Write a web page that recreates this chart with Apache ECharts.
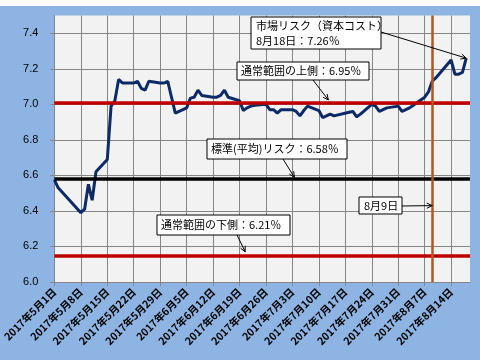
<!DOCTYPE html>
<html><head><meta charset="utf-8">
<script src="https://cdn.jsdelivr.net/npm/echarts@6/dist/echarts.min.js"></script>
<style>html,body{margin:0;padding:0;background:#fff}#c{width:480px;height:360px}</style>
</head><body><div id="c"></div>
<script>
// ---- data ----
const dates = ['5/1','5/2','5/8','5/9','5/10','5/11','5/12','5/15','5/16','5/17','5/18','5/19',
  '5/22','5/23','5/24','5/25','5/26','5/29','5/30','5/31','6/1','6/2','6/5','6/6','6/7','6/8','6/9',
  '6/12','6/13','6/14','6/15','6/16','6/19','6/20','6/21','6/22','6/23','6/26','6/27','6/28','6/29','6/30',
  '7/3','7/4','7/5','7/6','7/7','7/10','7/11','7/12','7/13','7/14','7/18','7/19','7/20','7/21',
  '7/24','7/25','7/26','7/27','7/28','7/31','8/1','8/2','8/3','8/4','8/7','8/8','8/9','8/10',
  '8/14','8/15','8/16','8/17','8/18'];
const risk = [6.575,6.53,6.39,6.41,6.55,6.46,6.62,6.69,6.99,7.02,7.14,7.12,
  7.12,7.13,7.09,7.08,7.13,7.12,7.12,7.13,7.04,6.95,6.98,7.035,7.04,7.08,7.05,
  7.04,7.04,7.05,7.08,7.04,7.02,6.965,6.98,6.99,6.995,7.00,6.97,6.97,6.95,6.97,
  6.97,6.96,6.935,6.965,6.99,6.965,6.925,6.935,6.945,6.935,6.955,6.96,6.93,6.945,
  7.00,6.99,6.96,6.97,6.98,6.99,6.96,6.97,6.98,6.995,7.04,7.07,7.13,7.15,
  7.25,7.17,7.17,7.18,7.26];
const tickLabels = ['2017年5月1日','2017年5月8日','2017年5月15日','2017年5月22日','2017年5月29日',
  '2017年6月5日','2017年6月12日','2017年6月19日','2017年6月26日','2017年7月3日','2017年7月10日',
  '2017年7月17日','2017年7月24日','2017年7月31日','2017年8月7日','2017年8月14日'];
const yTicks = ['6.0','6.2','6.4','6.6','6.8','7.0','7.2','7.4'];
const upperLine = 7.01, meanLine = 6.58, lowerLine = 6.15;
const markDate = '8/9';
const lastDate = '8/18', lastValue = 7.26;

function dayOf(s){const p=s.split('/').map(Number);return Math.round((Date.UTC(2017,p[0]-1,p[1])-Date.UTC(2017,4,1))/86400000);}
const seriesData = dates.map((s,i)=>[dayOf(s), risk[i]]);

const chart = echarts.init(document.getElementById('c'));
const jp = '"Noto Sans CJK JP", sans-serif';
chart.setOption({
  backgroundColor:'#8db4e2',
  animation:false,
  grid:{left:49,right:10,top:15.5,bottom:78,show:true,backgroundColor:'#f2f2f2',borderWidth:0},
  xAxis:{type:'value',min:0,max:110,interval:7,
    axisLine:{lineStyle:{color:'#868686'}},
    axisTick:{length:4,lineStyle:{color:'#868686'}},
    splitLine:{show:true,showMaxLine:false,lineStyle:{color:'#868686'}},
    axisLabel:{rotate:45,margin:8,fontSize:10.5,fontWeight:'bold',color:'#000',fontFamily:jp,showMaxLabel:false,
      formatter:v=>tickLabels[Math.round(v/7)]||''}},
  yAxis:{type:'value',min:6,max:7.5,interval:0.2,
    axisLine:{show:true,lineStyle:{color:'#868686'}},
    axisTick:{show:true,length:4,lineStyle:{color:'#868686'}},
    splitLine:{show:true,showMaxLine:false,lineStyle:{color:'#868686'}},
    axisLabel:{margin:16,fontSize:11,color:'#000',fontFamily:'"Liberation Sans", Arial, sans-serif',showMaxLabel:false,
      formatter:v=>yTicks[Math.round((v-6)/0.2)]||''}},
  series:[{type:'line',data:seriesData,showSymbol:false,symbol:'none',
    lineStyle:{color:'#0c2a66',width:3},
    markLine:{silent:true,symbol:'none',label:{show:false},animation:false,
      data:[
        {yAxis:upperLine,lineStyle:{color:'#c00000',width:3.5,type:'solid'}},
        {yAxis:lowerLine,lineStyle:{color:'#c00000',width:3.5,type:'solid'}},
        {yAxis:meanLine,lineStyle:{color:'#000',width:3.5,type:'solid'}},
        {xAxis:dayOf(markDate),lineStyle:{color:'#b5561a',width:2.5,type:'solid'}}
      ]}}]
});

function px(d,v){return chart.convertToPixel({gridIndex:0},[d,v]);}
function arrow(sx,sy,t){
  const a=Math.atan2(t[1]-sy,t[0]-sx), L=6, w=0.45;
  const st={stroke:'#000',lineWidth:1};
  return [
    {type:'line',shape:{x1:sx,y1:sy,x2:t[0],y2:t[1]},style:st,z:100},
    {type:'line',shape:{x1:t[0],y1:t[1],x2:t[0]-L*Math.cos(a-w),y2:t[1]-L*Math.sin(a-w)},style:st,z:100},
    {type:'line',shape:{x1:t[0],y1:t[1],x2:t[0]-L*Math.cos(a+w),y2:t[1]-L*Math.sin(a+w)},style:st,z:100}
  ];
}
function box(x,y,w,h,text,tx,lh){
  return [
    {type:'rect',shape:{x:x,y:y,width:w,height:h},style:{fill:'#fff',stroke:'#000',lineWidth:1},z:100},
    {type:'text',x:tx,y:y+h/2,style:{text:text,fill:'#000',font:'11px '+jp,textVerticalAlign:'middle',lineHeight:lh||14},z:101}
  ];
}
const g=[{type:'rect',shape:{x:0,y:0,width:480,height:6},style:{fill:'#fff'},z:0}];
g.push(...arrow(381,32,px(dayOf(lastDate),lastValue)));
g.push(...arrow(313,80,px(72.5,upperLine+0.015)));
g.push(...arrow(283,159,px(63.5,meanLine+0.01)));
g.push(...arrow(402,206,px(dayOf(markDate),6.43)));
g.push(...arrow(237,235,px(50.5,lowerLine+0.02)));
g.push(...box(251,17,130,32,'市場リスク（資本コスト）\n8月18日：7.26％',256,15));
g.push(...box(237,62,132,18,'通常範囲の上側：6.95％',241));
g.push(...box(207,139,140,20,'標準(平均)リスク：6.58％',211));
g.push(...box(359,197,43,17,'8月9日',364));
g.push(...box(157,215,133,20,'通常範囲の下側：6.21％',161));
chart.setOption({graphic:g});
</script></body></html>
